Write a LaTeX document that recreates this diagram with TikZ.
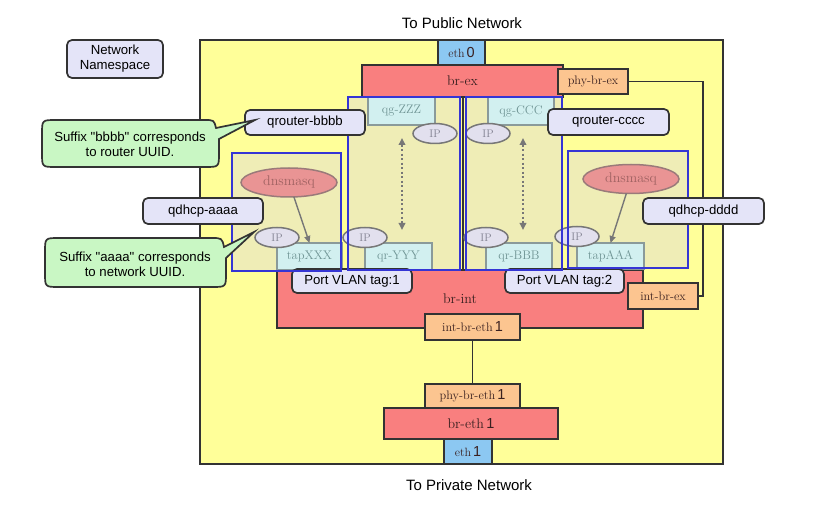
\documentclass[tikz,border=0pt]{standalone}
\usepackage{fontspec}
\newfontfamily\sansf{Liberation Sans}
\usetikzlibrary{arrows.meta,shapes.geometric,calc}
\newcommand\myfs[2]{\fontsize{#1}{#2}\selectfont}
\definecolor{hostyellow}{HTML}{FFFF99}
\definecolor{khaki}{HTML}{EFEDB6}
\definecolor{bridgered}{HTML}{F97F7F}
\definecolor{portorange}{HTML}{FCC590}
\definecolor{ethblue}{HTML}{8CC8F2}
\definecolor{tapcyan}{HTML}{D2F0F0}
\definecolor{tapedge}{HTML}{8A9A9A}
\definecolor{taptext}{HTML}{6F9494}
\definecolor{ipfill}{HTML}{E2E0EE}
\definecolor{ipedge}{HTML}{777777}
\definecolor{iptext}{HTML}{808090}
\definecolor{dnsfill}{HTML}{E99494}
\definecolor{dnsedge}{HTML}{9A7A7A}
\definecolor{dnstext}{HTML}{A06262}
\definecolor{lav}{HTML}{E4E4F8}
\definecolor{calloutgreen}{HTML}{C9F7C4}
\definecolor{nsblue}{HTML}{3535D5}
\definecolor{edge}{HTML}{333333}
\definecolor{labeltext}{HTML}{3A2020}
\tikzset{
  x=1pt,y=-1pt,
  base/.style={inner sep=0pt, outer sep=0pt, line width=1.7pt, draw=edge},
  hostbox/.style={base, fill=hostyellow},
  nsfill/.style={inner sep=0pt, outer sep=0pt, fill=khaki},
  nsline/.style={inner sep=0pt, outer sep=0pt, draw=nsblue, line width=1.7pt},
  bridge/.style={base, fill=bridgered, text=labeltext, font=\myfs{14}{16}},
  port/.style={base, fill=portorange, text=labeltext, font=\myfs{12.3}{14}},
  ethport/.style={base, fill=ethblue, text=labeltext, font=\myfs{12}{14}},
  tapbox/.style={inner sep=0pt, outer sep=0pt, line width=1.5pt, draw=tapedge, fill=tapcyan, text=taptext, font=\myfs{12.5}{14}},
  ipnode/.style={ellipse, inner sep=0pt, outer sep=0pt, line width=1.5pt, draw=ipedge, fill=ipfill, text=iptext, font=\myfs{11}{12}, minimum width=44pt, minimum height=20pt},
  dnsnode/.style={ellipse, inner sep=0pt, outer sep=0pt, line width=1.5pt, draw=dnsedge, fill=dnsfill, text=dnstext, font=\myfs{14}{16}, minimum width=96pt, minimum height=29pt},
  nslabel/.style={base, rounded corners=5pt, fill=lav, text=black, font=\sansf\myfs{13.2}{15}, align=center},
  callout/.style={line width=1.7pt, draw=edge, fill=calloutgreen},
  callouttext/.style={font=\sansf\myfs{13.2}{15}, align=center, inner sep=0pt},
  link/.style={line width=1.8pt, draw=edge},
  dnsarrow/.style={line width=1.4pt, draw=ipedge, -{Triangle[width=6pt,length=7pt]}},
  dotarrow/.style={line width=2pt, draw=ipedge, dash pattern=on 2pt off 2.5pt, {Triangle[width=6.5pt,length=7pt]}-{Triangle[width=6.5pt,length=7pt]}},
  caption/.style={font=\sansf\myfs{15}{17}, inner sep=0pt}
}
\newcommand\dig[1]{{\sansf\myfs{14.5}{14}#1}}
\begin{document}
\begin{tikzpicture}
\useasboundingbox[fill=white] (0,0) rectangle (813,521);

% host
\node[hostbox, minimum width=523pt, minimum height=424pt] (host) at (461.5,252) {};

% namespace fills
\node[nsfill, minimum width=112pt, minimum height=173pt] (rtLf) at (404,183.5) {};
\node[nsfill, minimum width=96pt, minimum height=173pt] (rtRf) at (514,183.5) {};
\node[nsfill, minimum width=109pt, minimum height=118pt] (dhLf) at (286.5,212) {};
\node[nsfill, minimum width=120pt, minimum height=117pt] (dhRf) at (628,209.5) {};

% external bridge
\node[ethport, minimum width=47pt, minimum height=25pt] (eth0) at (461.5,52.5) {eth\,\dig{0}};
\node[bridge, minimum width=201pt, minimum height=32pt] (brex) at (462.5,81) {br-ex};
\node[port, minimum width=70pt, minimum height=25pt] (phybrex) at (593,81.5) {phy-br-ex};

% line between routers
\coordinate (mid) at (463,0);

% integration bridge
\node[bridge, minimum width=366pt, minimum height=58pt] (brint) at (460,299) {\raisebox{-4pt}{br-int}};
\draw[link] (brex.south -| mid) -- (brint.north -| mid);
\node[port, minimum width=70pt, minimum height=26pt] (intbrex) at (663,296) {int-br-ex};
\node[port, minimum width=95pt, minimum height=26pt] (intbreth) at (472.5,327) {int-br-eth\,\dig{1}};

% physical bridge
\node[port, minimum width=95pt, minimum height=24pt] (phybreth) at (472.5,396) {phy-br-eth\,\dig{1}};
\node[bridge, minimum width=174pt, minimum height=31pt] (breth) at (471,423.5) {br-eth\,\dig{1}};
\node[ethport, minimum width=48pt, minimum height=25pt] (eth1) at (468,451.5) {eth\,\dig{1}};

% router ports
\node[tapbox, minimum width=67pt, minimum height=28pt] (qgZZZ) at (401.5,111) {qg-ZZZ};
\node[tapbox, minimum width=66pt, minimum height=28pt] (qgCCC) at (521,111) {qg-CCC};
\node[tapbox, minimum width=67pt, minimum height=27pt] (qrYYY) at (398.5,256.5) {qr-YYY};
\node[tapbox, minimum width=66pt, minimum height=27pt] (qrBBB) at (519,256.5) {qr-BBB};
\node[tapbox, minimum width=65pt, minimum height=27pt] (tapXXX) at (309.5,256.5) {tapXXX};
\node[tapbox, minimum width=67pt, minimum height=26pt] (tapAAA) at (610.5,256) {tapAAA};

% VLAN tags
\node[nslabel, minimum width=120pt, minimum height=24pt] (vlan1) at (352,281) {Port VLAN tag:1};
\node[nslabel, minimum width=119pt, minimum height=24pt] (vlan2) at (564.5,281) {Port VLAN tag:2};

% IP addresses
\node[ipnode] (ipZZZ) at (435,133.5) {IP};
\node[ipnode] (ipCCC) at (488,133.5) {IP};
\node[ipnode] (ipYYY) at (365,237.5) {IP};
\node[ipnode] (ipBBB) at (486,237.5) {IP};
\node[ipnode] (ipXXX) at (277,237.5) {IP};
\node[ipnode] (ipAAA) at (577,236.5) {IP};

% dnsmasq
\node[dnsnode] (dnsL) at (289,182.5) {dnsmasq};
\node[dnsnode] (dnsR) at (631,179) {dnsmasq};

% namespace outlines
\node[nsline, minimum width=112pt, minimum height=173pt] (rtL) at (404,183.5) {};
\node[nsline, minimum width=96pt, minimum height=173pt] (rtR) at (514,183.5) {};
\node[nsline, minimum width=109pt, minimum height=118pt] (dhL) at (286.5,212) {};
\node[nsline, minimum width=120pt, minimum height=117pt] (dhR) at (628,209.5) {};

% arrows
\draw[dnsarrow] (dnsL) -- (tapXXX.north);
\draw[dnsarrow] (dnsR) -- (tapAAA.north);
\coordinate (dLt) at (402,138);
\coordinate (dLb) at (402,230);
\coordinate (dRt) at (523,138);
\coordinate (dRb) at (523,230);
\draw[dotarrow] (dLt) -- (dLb);
\draw[dotarrow] (dRt) -- (dRb);

% links
\coordinate (bend) at (703,0);
\draw[link] (phybrex.east) -| (bend |- intbrex.east) -- (intbrex.east);
\draw[link] (intbreth.south) -- (phybreth.north);

% namespace labels
\node[nslabel, minimum width=96pt, minimum height=38pt] (legend) at (115,59) {Network\\Namespace};
\node[nslabel, minimum width=120pt, minimum height=25pt] (qrb) at (305,122.5) {qrouter-bbbb};
\node[nslabel, minimum width=121pt, minimum height=26pt] (qrc) at (608.5,122) {qrouter-cccc};
\node[nslabel, minimum width=120pt, minimum height=26pt] (qda) at (203,211) {qdhcp-aaaa};
\node[nslabel, minimum width=121pt, minimum height=26pt] (qdd) at (703.5,211) {qdhcp-dddd};

% callouts
\draw[callout] (56,120) -- (204,120) .. controls (214,120) .. (216,128) -- (255,120) -- (219,139) -- (219,153) .. controls (219,167) .. (205,167) -- (56,167) .. controls (42,167) .. (42,153) -- (42,134) .. controls (42,120) .. (56,120) -- cycle;
\node[callouttext] (c1) at (130,144) {Suffix "bbbb" corresponds\\to router UUID.};
\draw[callout] (59,238) -- (211,238) .. controls (222,238) .. (224,247) -- (254,232) -- (226,258) -- (226,273) .. controls (226,287) .. (212,287) -- (59,287) .. controls (45,287) .. (45,273) -- (45,252) .. controls (45,238) .. (59,238) -- cycle;
\node[callouttext] (c2) at (135,264) {Suffix "aaaa" corresponds\\to network UUID.};

% captions
\node[caption] (pub) at (462,23) {To Public Network};
\node[caption] (priv) at (469,485) {To Private Network};
\end{tikzpicture}
\end{document}
